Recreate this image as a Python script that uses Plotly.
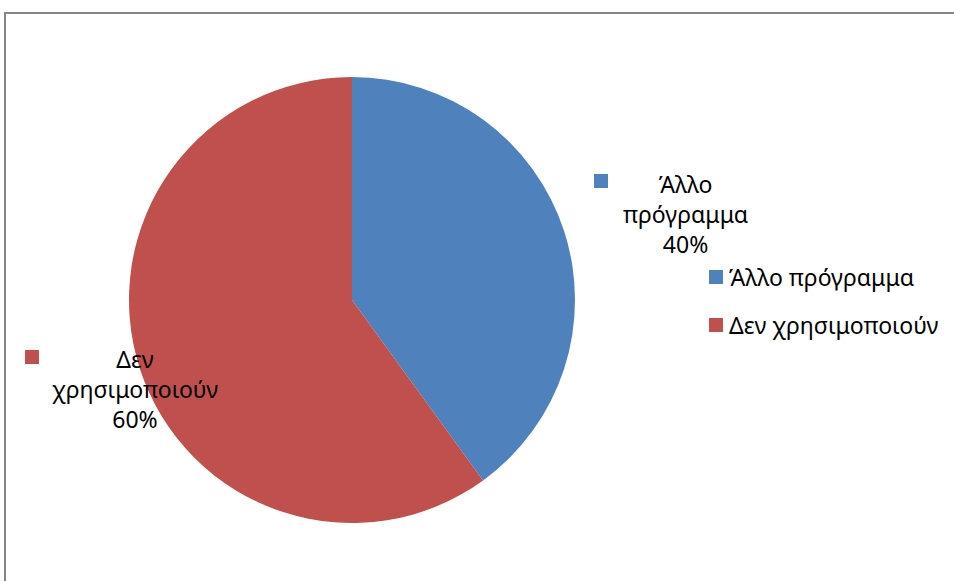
import plotly.graph_objects as go

# Survey result: share of respondents by software use
labels = ["Άλλο πρόγραμμα", "Δεν χρησιμοποιούν"]
values = [40, 60]
colors = ["#4F81BD", "#C0504D"]
# data-label text as it wraps inside the chart
label_lines = [["Άλλο", "πρόγραμμα"], ["Δεν", "χρησιμοποιούν"]]

W, H = 954, 581
FONT = "Noto Sans"
FS = 23


def px(x):
    return x / W


def py(y):
    return 1 - y / H


fig = go.Figure(
    go.Pie(
        labels=labels,
        values=values,
        marker=dict(colors=colors, line=dict(width=0)),
        sort=False,
        direction="clockwise",
        rotation=0,
        textinfo="none",
        hoverinfo="label+percent",
        showlegend=False,
        domain=dict(x=[px(129), px(575)], y=[py(523), py(77)]),
    )
)

total = sum(values)
shapes = []
annotations = []

# outside data labels with colour key
label_pos = [(685, 214, 594, 174), (135, 389, 25, 350)]
for lines, v, c, (cx, cy, sx, sy) in zip(label_lines, values, colors, label_pos):
    pct = round(100 * v / total)
    annotations.append(dict(
        x=px(cx), y=py(cy), xref="paper", yref="paper",
        text="<br>".join(lines + [f"{pct}%"]),
        showarrow=False, xanchor="center", yanchor="middle", align="center",
        font=dict(family=FONT, size=FS, color="#000000"),
    ))
    shapes.append(dict(type="rect", xref="paper", yref="paper",
                       x0=px(sx), x1=px(sx + 14), y0=py(sy + 14), y1=py(sy),
                       fillcolor=c, line=dict(width=0)))

# legend on the right
legend_rows = [277, 325]
for lab, c, ry in zip(labels, colors, legend_rows):
    shapes.append(dict(type="rect", xref="paper", yref="paper",
                       x0=px(709), x1=px(723), y0=py(ry + 7), y1=py(ry - 7),
                       fillcolor=c, line=dict(width=0)))
    annotations.append(dict(
        x=px(727), y=py(ry), xref="paper", yref="paper",
        text=lab, showarrow=False, xanchor="left", yanchor="middle",
        font=dict(family=FONT, size=FS, color="#000000"),
    ))

# chart-area border
shapes.append(dict(type="rect", xref="paper", yref="paper",
                   x0=px(5), x1=px(W + 5), y0=py(H + 5), y1=py(13),
                   fillcolor="rgba(0,0,0,0)", line=dict(color="#868686", width=2)))

fig.update_layout(
    width=W, height=H,
    margin=dict(l=0, r=0, t=0, b=0),
    paper_bgcolor="white", plot_bgcolor="white",
    shapes=shapes, annotations=annotations,
    font=dict(family=FONT),
)

fig.write_html("out.html", config={"displayModeBar": False})
